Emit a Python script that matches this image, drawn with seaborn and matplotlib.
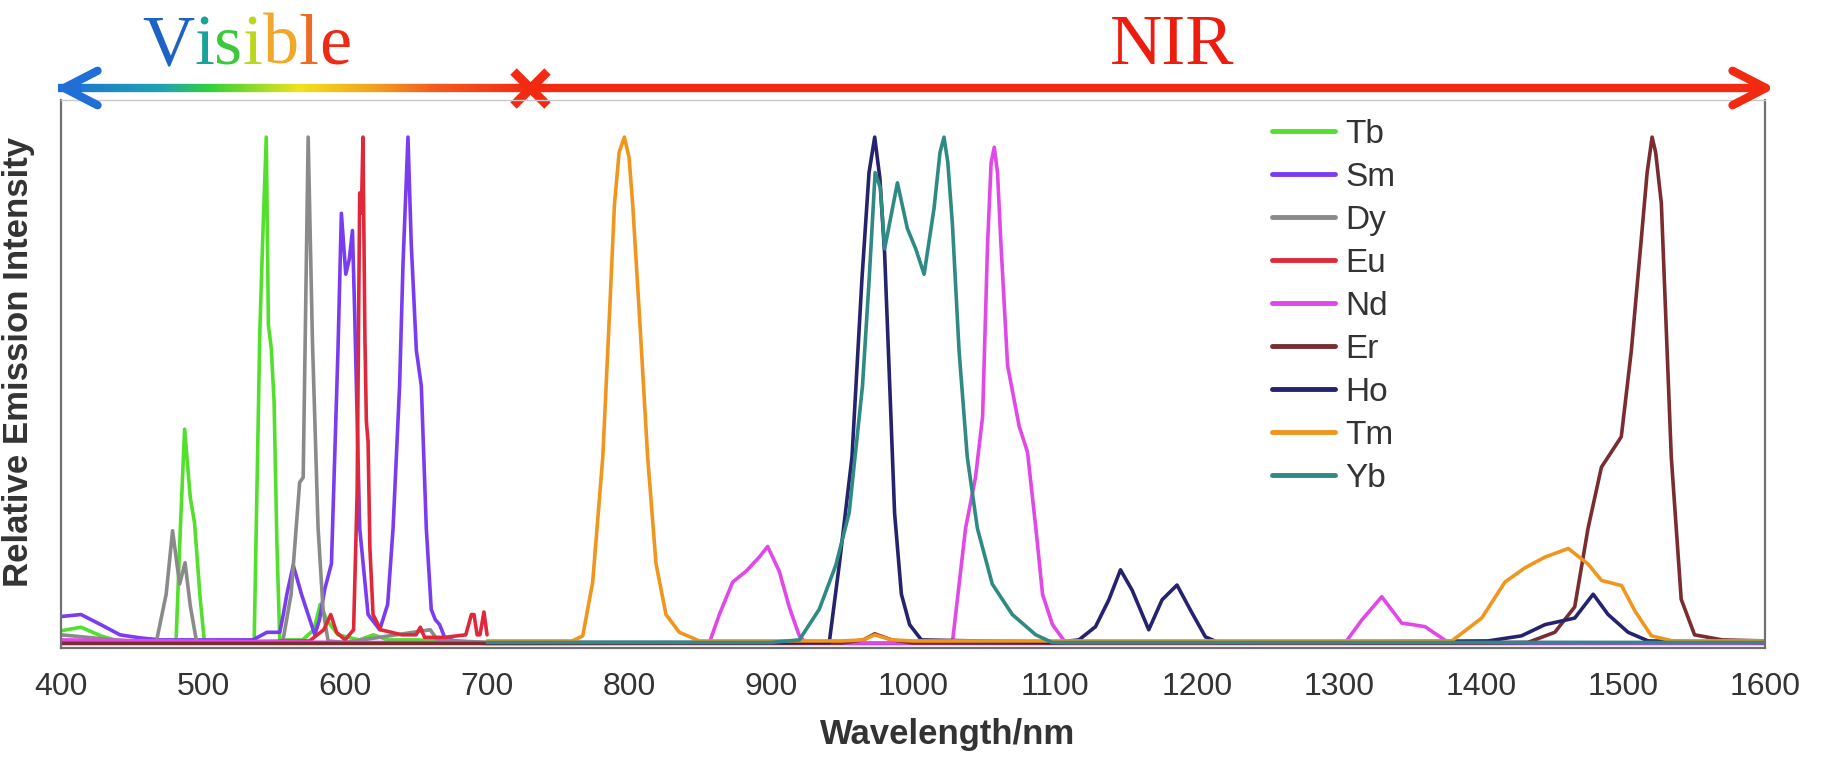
import matplotlib
matplotlib.use('Agg')
import matplotlib.pyplot as plt
import matplotlib.transforms as mtransforms
from matplotlib import font_manager, ft2font
from matplotlib.collections import LineCollection
from matplotlib.colors import LinearSegmentedColormap
import numpy as np
import pandas as pd
import seaborn as sns

sns.set_style('white')
plt.rcParams['font.family'] = ['Liberation Sans', 'DejaVu Sans']

# emission spectra (wavelength in nm, normalised intensity)
tb_wl = [400, 414, 428, 441, 455, 470, 481, 484, 487, 491, 494, 498, 501, 520, 536, 540, 542, 544.5,
         546, 548, 550, 552, 554, 570, 578, 582.5, 587, 595, 610, 620, 630, 650, 700]
tb_int = [0.028, 0.035, 0.018, 0.007, 0.004, 0.004, 0.01, 0.23, 0.425, 0.29, 0.24, 0.09, 0.005, 0.004,
          0.01, 0.62, 0.8, 1.0, 0.63, 0.585, 0.48, 0.2, 0.01, 0.01, 0.03, 0.08, 0.05, 0.02, 0.01, 0.02,
          0.01, 0.01, 0.005]

sm_wl = [400, 414, 428, 441.5, 455.6, 470, 535, 545, 554, 556.5, 559, 563.5, 569.3, 572.8, 578.7, 582,
         585.7, 590.4, 595, 597.4, 600.5, 603, 605.2, 606.8, 610.3, 616.2, 624.4, 630, 633.8, 638.4,
         640.8, 644.3, 646.6, 650.2, 653.7, 657.2, 660.7, 663.5, 666.6, 670.1, 680, 700, 1600]
sm_int = [0.056, 0.06, 0.04, 0.02, 0.014, 0.01, 0.01, 0.025, 0.025, 0.06, 0.1, 0.157, 0.1, 0.07, 0.02,
          0.05, 0.11, 0.16, 0.58, 0.85, 0.73, 0.76, 0.816, 0.65, 0.23, 0.06, 0.03, 0.08, 0.23, 0.51,
          0.75, 1.0, 0.79, 0.58, 0.51, 0.23, 0.07, 0.05, 0.04, 0.015, 0.005, 0.003, 0.003]

dy_wl = [400, 430, 460, 467, 474, 478.5, 483.5, 487.3, 491, 495.5, 530, 556, 562, 568, 570.5, 574,
         577, 581, 584.5, 588, 600, 660, 665, 700]
dy_int = [0.02, 0.012, 0.005, 0.005, 0.1, 0.225, 0.12, 0.162, 0.077, 0.005, 0.005, 0.005, 0.1, 0.32,
          0.33, 1.0, 0.6, 0.23, 0.07, 0.008, 0.005, 0.03, 0.01, 0.005]

eu_wl = [400, 500, 575, 585, 589.9, 594, 600, 606, 608.5, 610.3, 611.5, 612.6, 614, 615, 616.2, 617.5,
         619.7, 625, 640, 650, 653, 656, 670, 685, 689, 690.8, 693, 695, 697.8, 700]
eu_int = [0.006, 0.006, 0.008, 0.03, 0.06, 0.025, 0.01, 0.03, 0.3, 0.89, 0.85, 1.0, 0.6, 0.44, 0.4,
          0.19, 0.06, 0.03, 0.02, 0.02, 0.035, 0.015, 0.015, 0.02, 0.06, 0.06, 0.02, 0.02, 0.065, 0.02]

nd_wl = [400, 600, 850, 856.5, 863.6, 873, 882.3, 891.7, 897.6, 905.8, 912.9, 919.9, 924.6, 1000,
         1027.7, 1037, 1044, 1049, 1052.5, 1055, 1057.2, 1059.5, 1061.9, 1066.6, 1074.8, 1080.6, 1086.5,
         1091.2, 1098.2, 1107.6, 1200, 1304.3, 1316, 1330.1, 1344.2, 1352, 1360.6, 1377, 1600]
nd_int = [0.01, 0.005, 0.004, 0.004, 0.06, 0.124, 0.145, 0.173, 0.194, 0.145, 0.074, 0.018, 0.004,
          0.004, 0.004, 0.23, 0.33, 0.45, 0.79, 0.95, 0.98, 0.93, 0.79, 0.55, 0.43, 0.38, 0.23, 0.1,
          0.04, 0.004, 0.004, 0.004, 0.049, 0.095, 0.043, 0.04, 0.036, 0.005, 0.004]

er_wl = [400, 700, 950, 965, 973, 985, 1000, 1400, 1433, 1452, 1466, 1475.4, 1484.8, 1491.8, 1498.8,
         1505.9, 1512.9, 1517, 1520.5, 1523, 1527, 1534, 1541, 1550.4, 1570, 1600]
er_int = [0.003, 0.003, 0.004, 0.01, 0.022, 0.01, 0.004, 0.004, 0.005, 0.025, 0.075, 0.23, 0.35, 0.38,
          0.41, 0.58, 0.8, 0.93, 1.0, 0.97, 0.87, 0.37, 0.09, 0.02, 0.01, 0.008]

ho_wl = [700, 900, 941, 948, 957, 964, 969, 973, 976.6, 980, 983.6, 987, 991.8, 997.6, 1005.9, 1100,
         1116.8, 1128.5, 1137.9, 1146.1, 1154.3, 1166, 1175.4, 1185.9, 1196.5, 1205.9, 1215, 1405,
         1428.5, 1445, 1466, 1479, 1489.5, 1503.6, 1517.7, 1600]
ho_int = [0.005, 0.005, 0.005, 0.157, 0.37, 0.72, 0.93, 1.0, 0.92, 0.77, 0.51, 0.26, 0.1, 0.04, 0.01,
          0.005, 0.01, 0.036, 0.089, 0.148, 0.108, 0.03, 0.089, 0.118, 0.063, 0.016, 0.005, 0.008,
          0.018, 0.04, 0.053, 0.1, 0.06, 0.025, 0.008, 0.005]

tm_wl = [700, 760, 767.4, 774.4, 781.5, 786.2, 789.7, 793, 796.7, 800, 802.6, 807.3, 813.1, 819, 826,
         835.4, 849.5, 950, 965, 973, 985, 1000, 1379.4, 1400.5, 1416.9, 1431, 1445, 1461.5, 1475.5,
         1484.9, 1499, 1508.4, 1520, 1535, 1600]
tm_int = [0.008, 0.008, 0.018, 0.124, 0.37, 0.65, 0.866, 0.97, 1.0, 0.96, 0.866, 0.65, 0.37, 0.16,
          0.06, 0.025, 0.008, 0.008, 0.01, 0.02, 0.01, 0.008, 0.008, 0.053, 0.124, 0.152, 0.173, 0.19,
          0.159, 0.127, 0.117, 0.067, 0.018, 0.008, 0.008]

yb_wl = [700, 900, 919.9, 933.9, 945.6, 955, 964.4, 969.1, 973.3, 977, 980, 989, 996, 1001.9, 1007.8,
         1014.8, 1019, 1021.8, 1024.5, 1027.7, 1032.4, 1038.2, 1045.3, 1055.8, 1069.9, 1086.4, 1098, 1600]
yb_int = [0.005, 0.005, 0.01, 0.07, 0.157, 0.26, 0.51, 0.72, 0.93, 0.9, 0.78, 0.91, 0.82, 0.78, 0.73,
          0.86, 0.97, 1.0, 0.95, 0.83, 0.58, 0.37, 0.23, 0.12, 0.06, 0.02, 0.005, 0.005]

ions = ['Tb', 'Sm', 'Dy', 'Eu', 'Nd', 'Er', 'Ho', 'Tm', 'Yb']
ion_colors = ['#52e02c', '#7a3cf0', '#8a8a8a', '#e0283a', '#e048e8', '#7a2c30', '#25226e', '#f0961e',
              '#2e8a82']
x_ticks = [400, 500, 600, 700, 800, 900, 1000, 1100, 1200, 1300, 1400, 1500, 1600]

wls = [tb_wl, sm_wl, dy_wl, eu_wl, nd_wl, er_wl, ho_wl, tm_wl, yb_wl]
ints = [tb_int, sm_int, dy_int, eu_int, nd_int, er_int, ho_int, tm_int, yb_int]
frames = []
for name, wl, inten in zip(ions, wls, ints):
    frames.append(pd.DataFrame({'wl': wl, 'I': inten, 'ion': name}))
df = pd.concat(frames, ignore_index=True)

txt_col = '#333333'
fig = plt.figure(figsize=(18.29, 7.59), dpi=100)
ax = fig.add_axes([0.0334, 0.1462, 0.9316, 0.722])

sns.lineplot(data=df, x='wl', y='I', hue='ion', hue_order=ions, palette=ion_colors,
             estimator=None, sort=False, linewidth=2.6, ax=ax)

ax.set_xlim(400, 1600)
ax.set_ylim(-0.006, 1.073)
ax.set_xticks(x_ticks)
ax.set_xticks(range(450, 1600, 100), minor=True)
ax.set_yticks([])
ax.tick_params(axis='x', which='major', direction='out', length=8, width=1.5, color='#666666',
               labelsize=23, labelcolor=txt_col, pad=9)
ax.tick_params(axis='x', which='minor', direction='out', length=5, width=1.3, color='#666666')
for s in ['left', 'right', 'bottom']:
    ax.spines[s].set_color('#707070')
    ax.spines[s].set_linewidth(1.6)
ax.spines['top'].set_color('#c8c8c8')
ax.spines['top'].set_linewidth(1.0)

ax.set_xlabel('Wavelength/nm', fontsize=25, fontweight='bold', color=txt_col, va='top')
ax.xaxis.set_label_coords(0.52, -0.127)
ax.set_ylabel('Relative Emission Intensity', fontsize=25, fontweight='bold', color=txt_col)
ax.yaxis.set_label_coords(-0.0153, 0.522)

leg = ax.legend(loc='upper left', bbox_to_anchor=(0.7107, 0.966), frameon=False, fontsize=24,
                labelspacing=0.36, handlelength=1.9, handletextpad=0.3, borderpad=0,
                borderaxespad=0)
for line in leg.get_lines():
    line.set_linewidth(3.5)
for t in leg.get_texts():
    t.set_color(txt_col)

# spectral-range arrows on top of the plot
trans = mtransforms.blended_transform_factory(ax.transData, fig.transFigure)
ya = 1 - 88 / 759
grad = LinearSegmentedColormap.from_list(
    'vis', [(0, '#1f6fd6'), (0.22, '#1ea3b0'), (0.32, '#30d238'), (0.51, '#f0e21e'),
            (0.67, '#f3a020'), (0.8, '#f35a1e'), (1, '#f22a12')])
xs = np.linspace(398, 731, 240)
segs = [[(xs[i], ya), (xs[i + 1], ya)] for i in range(len(xs) - 1)]
lc = LineCollection(segs, colors=grad(np.linspace(0, 1, len(segs))), linewidths=6.0,
                    transform=trans, clip_on=False, capstyle='butt')
ax.add_collection(lc)
ax.annotate('', xy=(395.8, ya), xytext=(412, ya), xycoords=trans, textcoords=trans,
            arrowprops=dict(arrowstyle='->,head_length=1.2,head_width=0.62', lw=6, color='#1f6fd6',
                            shrinkA=0, shrinkB=0, mutation_scale=20), annotation_clip=False)
ax.annotate('', xy=(1607, ya), xytext=(730, ya), xycoords=trans, textcoords=trans,
            arrowprops=dict(arrowstyle='->,head_length=1.2,head_width=0.62', lw=6, color='#f22a12',
                            shrinkA=0, shrinkB=0, mutation_scale=20), annotation_clip=False)
ax.plot([730], [ya], marker='x', ms=24, mew=6.5, color='#f22a12', transform=trans, clip_on=False)

# "Visible" with one colour per letter, letters placed by their font advance
word = 'Visible'
letter_cols = ['#1d62c4', '#17a29a', '#3cc83c', '#bcd81e', '#f0a82a', '#f06a22', '#ee2a14']
serif_path = font_manager.findfont(font_manager.FontProperties(family='Liberation Serif'))
ft = ft2font.FT2Font(serif_path)
ft.set_size(52, 100)
x_px = 142.0
for ch, col in zip(word, letter_cols):
    fig.text(x_px / 1829, 1 - 64 / 759, ch, fontsize=52, family='Liberation Serif', color=col,
             ha='left', va='baseline')
    x_px += ft.load_char(ord(ch)).linearHoriAdvance / 65536
fig.text(1172 / 1829, 1 - 64 / 759, 'NIR', fontsize=52, family='Liberation Serif',
         color='#ee1c0e', ha='center', va='baseline')

fig.savefig('out.png', dpi=100)
